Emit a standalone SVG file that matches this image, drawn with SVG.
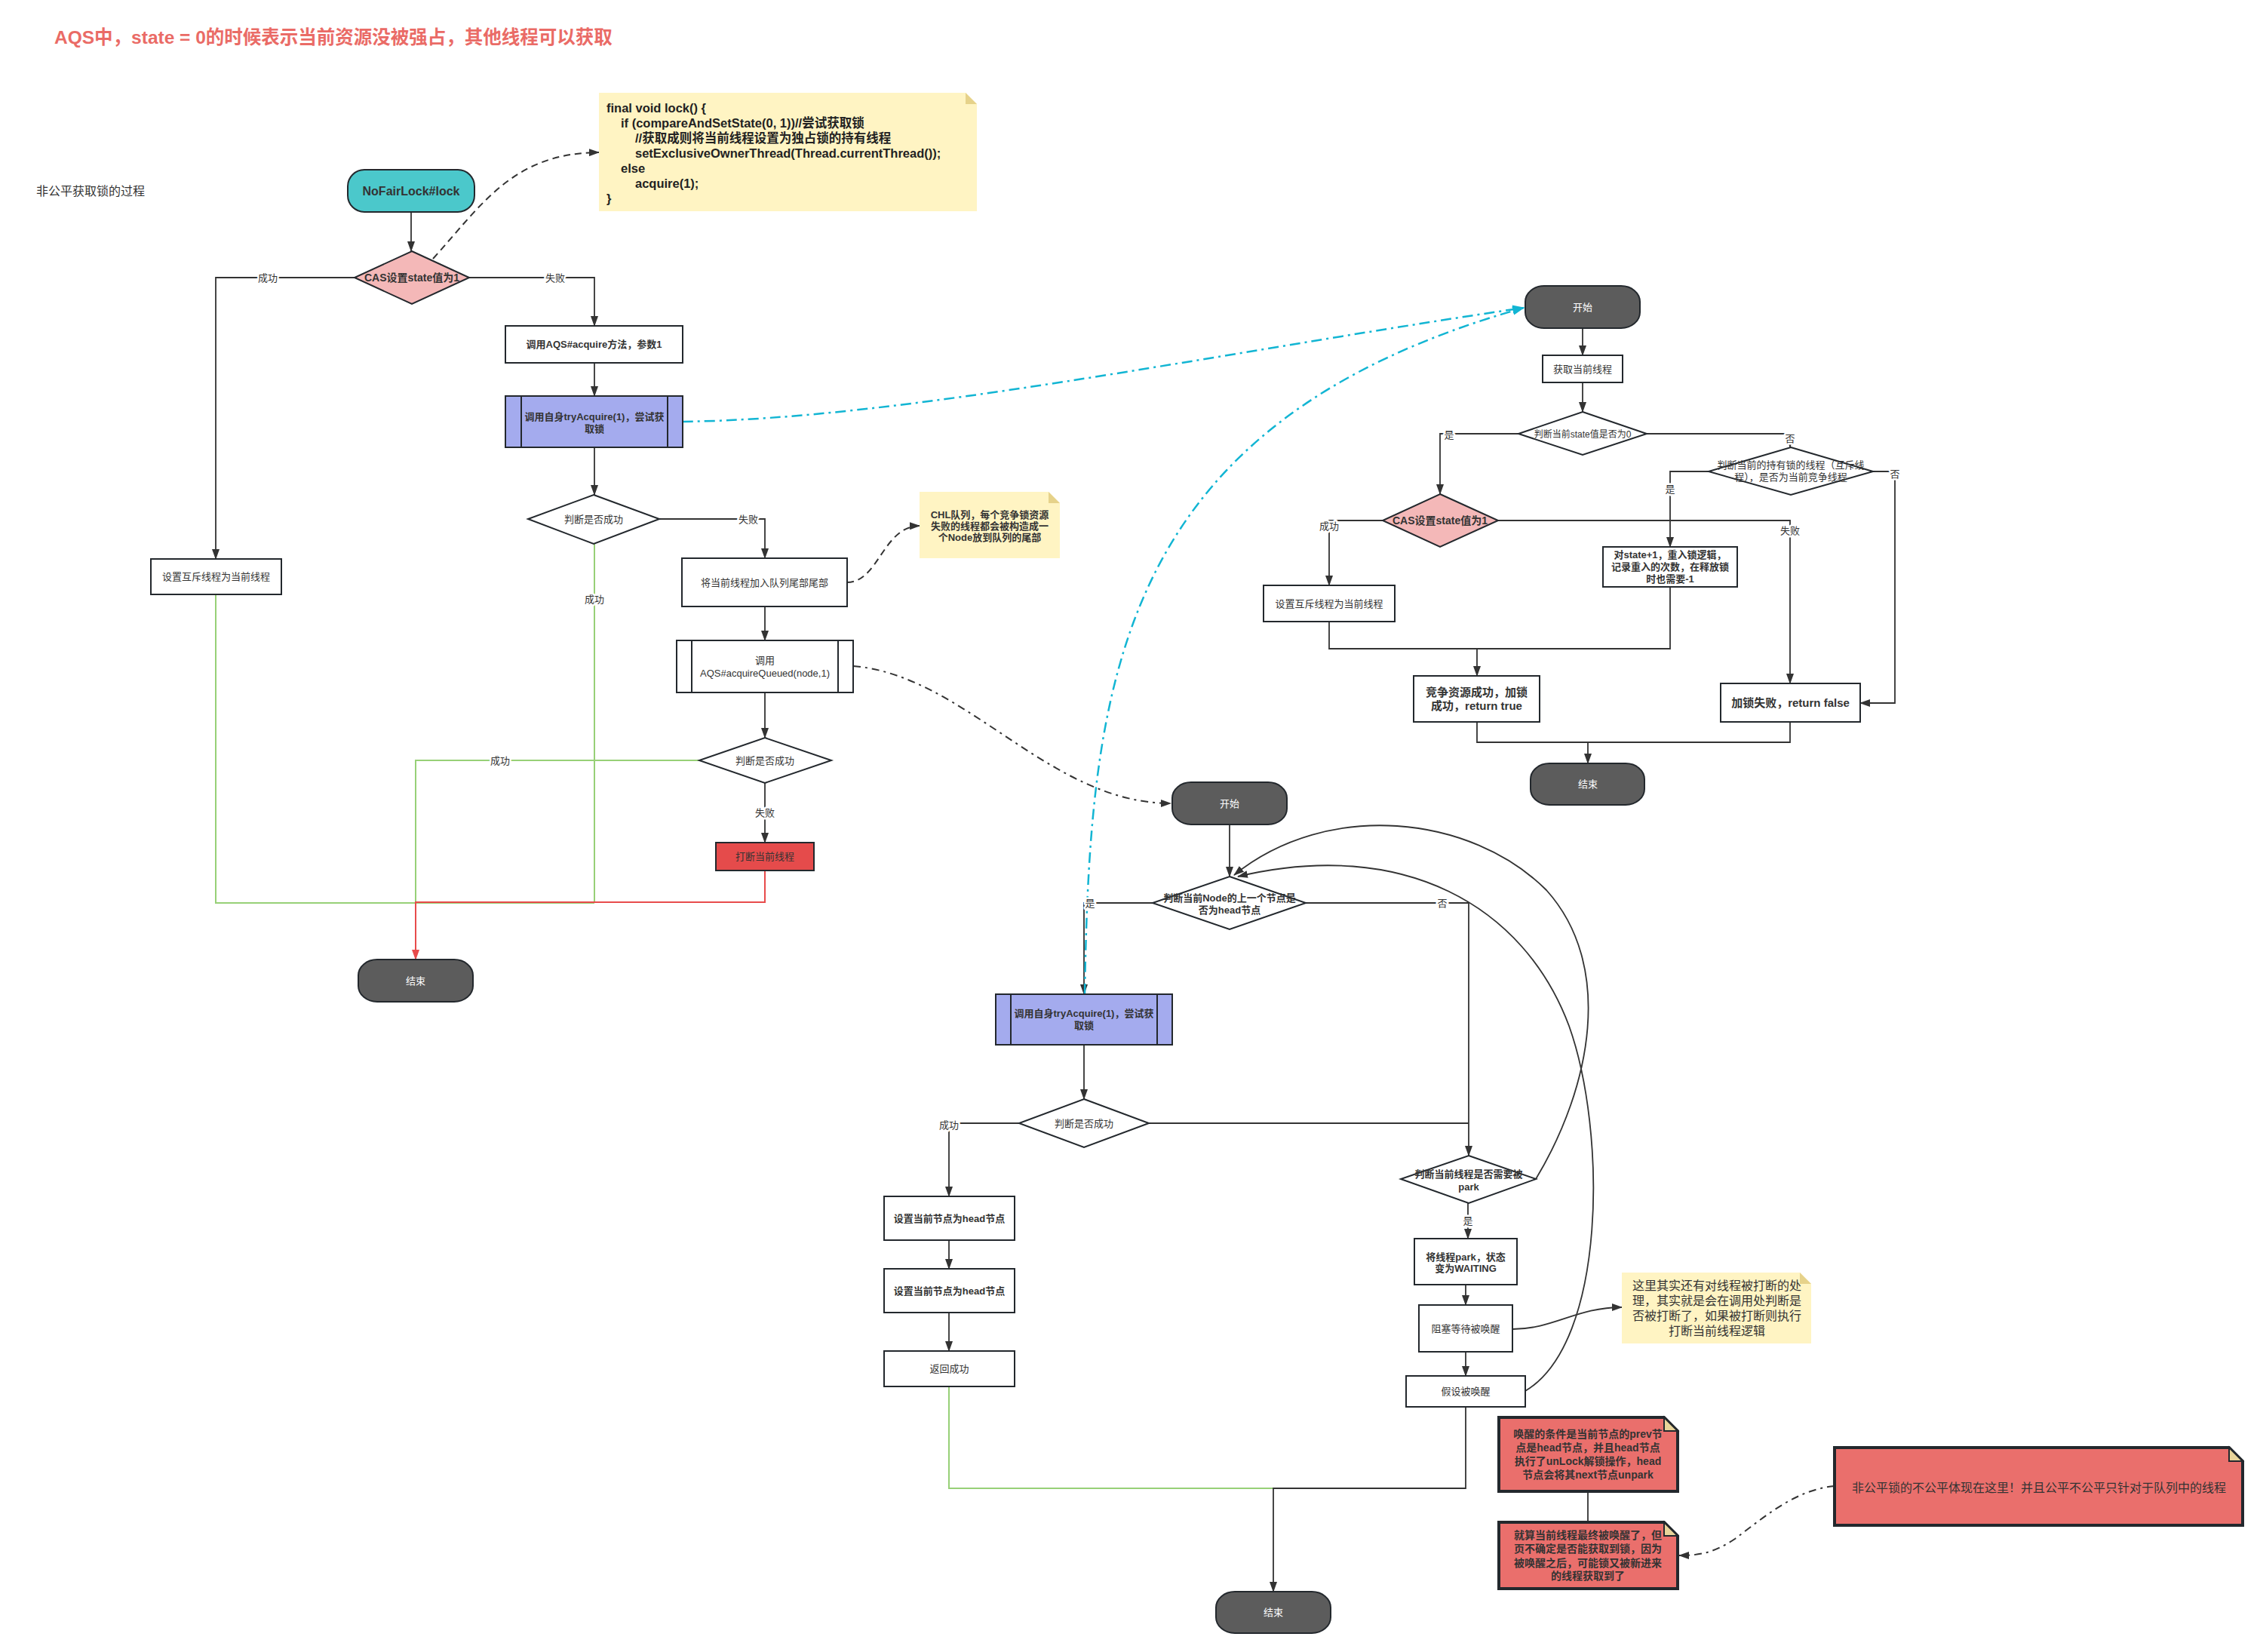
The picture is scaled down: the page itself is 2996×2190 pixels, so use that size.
<svg xmlns="http://www.w3.org/2000/svg" width="2996" height="2190" viewBox="0 0 2996 2190">
<defs>
<style>
.bg{fill:#ffffff}
.box{fill:#ffffff;stroke:#23282D;stroke-width:2}
.term{fill:#5C5C5C;stroke:#23282D;stroke-width:2}
.teal{fill:#4BC8CB;stroke:#23282D;stroke-width:2}
.pink{fill:#F4B8B8;stroke:#23282D;stroke-width:2}
.blue{fill:#A4ABEE;stroke:#23282D;stroke-width:2}
.redbox{fill:#E54B4B;stroke:#23282D;stroke-width:2}
.ynote{fill:#FFF4C3;stroke:none}
.yfold{fill:#E6D28A;stroke:none}
.rnote{fill:#EA6F6C;stroke:#23282D;stroke-width:4}
.rfold{fill:#E8D49A;stroke:#23282D;stroke-width:2}
.t{font-family:"Liberation Sans","Noto Sans CJK SC",sans-serif;font-size:13px;fill:#333333;text-anchor:middle}
.tw{font-family:"Liberation Sans","Noto Sans CJK SC",sans-serif;font-size:13px;fill:#ffffff;text-anchor:middle}
.tb{font-weight:bold}
.lbl{font-family:"Liberation Sans","Noto Sans CJK SC",sans-serif;font-size:13px;fill:#333333;text-anchor:middle;stroke:#ffffff;stroke-width:5px;paint-order:stroke;stroke-linejoin:round}
.code{font-family:"Liberation Sans","Noto Sans CJK SC",sans-serif;font-size:16.5px;font-weight:bold;fill:#222222}
.e{fill:none;stroke:#333333;stroke-width:1.8}
.g{fill:none;stroke:#97D077;stroke-width:2}
.r{fill:none;stroke:#E84B4B;stroke-width:2}
.cy{fill:none;stroke:#12B5D3;stroke-width:2.5;stroke-dasharray:14 6 3 6}
.dd{fill:none;stroke:#333333;stroke-width:2;stroke-dasharray:10 6 3 6}
.da{fill:none;stroke:#333333;stroke-width:2;stroke-dasharray:9 6}
</style>
<marker id="ah" viewBox="0 0 14 10" refX="13" refY="5" markerWidth="14" markerHeight="10" markerUnits="userSpaceOnUse" orient="auto"><path d="M0,0 L14,5 L0,10 Z" fill="#333333"/></marker>
<marker id="ahc" viewBox="0 0 14 10" refX="13" refY="5" markerWidth="16" markerHeight="12" markerUnits="userSpaceOnUse" orient="auto"><path d="M0,0 L14,5 L0,10 Z" fill="#12B5D3"/></marker>
<marker id="ahr" viewBox="0 0 14 10" refX="13" refY="5" markerWidth="14" markerHeight="10" markerUnits="userSpaceOnUse" orient="auto"><path d="M0,0 L14,5 L0,10 Z" fill="#E84B4B"/></marker>
</defs>
<rect class="bg" x="0" y="0" width="2996" height="2190"/>

<text x="72" y="58" style="font-family:'Liberation Sans','Noto Sans CJK SC',sans-serif;font-size:24.5px;font-weight:bold;fill:#EA6B66">AQS中，state = 0的时候表示当前资源没被强占，其他线程可以获取</text>
<text x="48" y="259" style="font-family:'Liberation Sans','Noto Sans CJK SC',sans-serif;font-size:16px;fill:#333333">非公平获取锁的过程</text>

<g id="connectors">
<!-- left flow -->
<path class="e" d="M545,281 V333" marker-end="url(#ah)"/>
<path class="e" d="M470,368 H286 V741" marker-end="url(#ah)"/>
<path class="e" d="M622,368 H788 V432" marker-end="url(#ah)"/>
<path class="e" d="M788,481 V525" marker-end="url(#ah)"/>
<path class="e" d="M788,593 V656" marker-end="url(#ah)"/>
<path class="e" d="M874,688 H1014 V740" marker-end="url(#ah)"/>
<path class="e" d="M1014,804 V849" marker-end="url(#ah)"/>
<path class="e" d="M1014,918 V978" marker-end="url(#ah)"/>
<path class="e" d="M1014,1038 V1117" marker-end="url(#ah)"/>
<path class="g" d="M286,788 V1197 H788"/>
<path class="g" d="M788,721 V1197"/>
<path class="g" d="M927,1008 H551 V1197"/>
<path class="r" d="M1014,1154 V1196 H551 V1272" marker-end="url(#ahr)"/>
<path class="da" d="M574,343 C640,270 680,203 794,202" marker-end="url(#ah)"/>
<path class="da" d="M1123,772 C1165,772 1170,698 1219,697" marker-end="url(#ah)"/>
<path class="cy" d="M905,559 C1200,555 1600,470 2020,408" marker-end="url(#ahc)"/>
<path class="dd" d="M1131,883 C1280,895 1390,1065 1552,1065" marker-end="url(#ah)"/>
<!-- right flow -->
<path class="e" d="M2098,435 V471" marker-end="url(#ah)"/>
<path class="e" d="M2098,507 V546" marker-end="url(#ah)"/>
<path class="e" d="M2013,575 H1909 V655" marker-end="url(#ah)"/>
<path class="e" d="M2183,575 H2373 V593" marker-end="url(#ah)"/>
<path class="e" d="M2265,625 H2214 V725" marker-end="url(#ah)"/>
<path class="e" d="M2483,625 H2512 V932 H2466" marker-end="url(#ah)"/>
<path class="e" d="M1833,690 H1762 V776" marker-end="url(#ah)"/>
<path class="e" d="M1986,690 H2373 V906" marker-end="url(#ah)"/>
<path class="e" d="M1762,824 V860 H1958 V896" marker-end="url(#ah)"/>
<path class="e" d="M2214,778 V860 H1958"/>
<path class="e" d="M1958,957 V984 H2105 V1012" marker-end="url(#ah)"/>
<path class="e" d="M2373,957 V984 H2105"/>
<!-- middle flow -->
<path class="e" d="M1630,1093 V1162" marker-end="url(#ah)"/>
<path class="e" d="M1528,1197 H1437 V1318" marker-end="url(#ah)"/>
<path class="e" d="M1731,1197 H1947 V1532" marker-end="url(#ah)"/>
<path class="cy" d="M1438,1318 C1445,900 1480,560 2020,408" marker-end="url(#ahc)"/>
<path class="e" d="M1437,1385 V1457" marker-end="url(#ah)"/>
<path class="e" d="M1351,1489 H1258 V1586" marker-end="url(#ah)"/>
<path class="e" d="M1523,1489 H1947"/>
<path class="e" d="M1258,1644 V1682" marker-end="url(#ah)"/>
<path class="e" d="M1258,1740 V1791" marker-end="url(#ah)"/>
<path class="g" d="M1258,1838 V1973 H1688"/>
<path class="e" d="M1943,1865 V1973 H1688 V2110" marker-end="url(#ah)"/>
<path class="e" d="M1946,1595 V1642" marker-end="url(#ah)"/>
<path class="e" d="M1943,1703 V1730" marker-end="url(#ah)"/>
<path class="e" d="M1943,1792 V1824" marker-end="url(#ah)"/>
<path class="e" d="M2036,1563 C2110,1440 2140,1280 2050,1180 C1950,1080 1760,1060 1636,1160" marker-end="url(#ah)"/>
<path class="e" d="M2022,1844 C2130,1780 2130,1500 2080,1360 C2020,1200 1860,1110 1641,1162" marker-end="url(#ah)"/>
<path class="e" d="M2005,1762 C2060,1762 2090,1733 2150,1733" marker-end="url(#ah)"/>
<path class="e" d="M2105,1977 V2018"/>
<path class="dd" d="M2432,1970 C2380,1975 2340,2010 2300,2040 C2270,2060 2250,2062 2226,2062" marker-end="url(#ah)"/>
<!-- labels -->
<text class="lbl" x="355" y="373">成功</text>
<text class="lbl" x="736" y="373">失败</text>
<text class="lbl" x="992" y="693">失败</text>
<text class="lbl" x="788" y="799">成功</text>
<text class="lbl" x="663" y="1013">成功</text>
<text class="lbl" x="1014" y="1082">失败</text>
<text class="lbl" x="1921" y="581">是</text>
<text class="lbl" x="2373" y="586">否</text>
<text class="lbl" x="2214" y="653">是</text>
<text class="lbl" x="2512" y="633">否</text>
<text class="lbl" x="1762" y="702">成功</text>
<text class="lbl" x="2373" y="708">失败</text>
<text class="lbl" x="1445" y="1202">是</text>
<text class="lbl" x="1912" y="1202">否</text>
<text class="lbl" x="1258" y="1496">成功</text>
<text class="lbl" x="1946" y="1623">是</text>
</g>

<g id="n-nofairlock"><rect class="teal" x="461" y="225" width="168" height="56" rx="22" ry="22"/><text class="t tb" x="545" y="259" style="font-size:16px">NoFairLock#lock</text></g>
<g id="n-cas1"><polygon class="pink" points="546,333 622,368 546,403 470,368"/><text class="t tb" x="546" y="373" style="font-size:14px">CAS设置state值为1</text></g>
<g id="n-setowner1"><rect class="box" x="200" y="741" width="173" height="47"/><text class="t" x="286.5" y="769">设置互斥线程为当前线程</text></g>
<g id="n-acquire"><rect class="box" x="670" y="432" width="235" height="49"/><text class="t tb" x="787.5" y="461">调用AQS#acquire方法，参数1</text></g>
<g id="n-try1"><rect class="blue" x="670" y="525" width="235" height="68"/><line class="box" x1="691" y1="525" x2="691" y2="593"/><line class="box" x1="885" y1="525" x2="885" y2="593"/><text class="t tb" x="788" y="557">调用自身tryAcquire(1)，尝试获</text><text class="t tb" x="788" y="573">取锁</text></g>
<g id="n-judge1"><polygon class="box" points="787,656 874,688 787,721 700,688"/><text class="t" x="787" y="693">判断是否成功</text></g>
<g id="n-addq"><rect class="box" x="904" y="740" width="219" height="64"/><text class="t" x="1013.5" y="777">将当前线程加入队列尾部尾部</text></g>
<g id="n-chl"><path class="ynote" d="M1219,652 H1390 L1405,667 V740 H1219 Z"/><path class="yfold" d="M1390,652 L1405,667 H1390 Z"/>
<text class="t tb" x="1312" y="687">CHL队列，每个竞争锁资源</text>
<text class="t tb" x="1312" y="702">失败的线程都会被构造成一</text>
<text class="t tb" x="1312" y="717">个Node放到队列的尾部</text></g>
<g id="n-acqq"><rect class="box" x="897" y="849" width="234" height="69"/><line class="box" x1="917" y1="849" x2="917" y2="918"/><line class="box" x1="1111" y1="849" x2="1111" y2="918"/><text class="t" x="1014" y="880">调用</text><text class="t" x="1014" y="897">AQS#acquireQueued(node,1)</text></g>
<g id="n-judge2"><polygon class="box" points="1014,978 1102,1008 1014,1038 927,1008"/><text class="t" x="1014" y="1013">判断是否成功</text></g>
<g id="n-interrupt"><rect class="redbox" x="949" y="1117" width="130" height="37"/><text class="t" x="1014" y="1140">打断当前线程</text></g>
<g id="n-end1"><rect class="term" x="475" y="1272" width="152" height="56" rx="25" ry="21"/><text class="tw" x="551" y="1305">结束</text></g>

<g id="n-code"><path class="ynote" d="M794,123 H1280 L1295,138 V280 H794 Z"/><path class="yfold" d="M1280,123 L1295,138 H1280 Z"/>
<text class="code" x="804" y="149">final void lock() {</text>
<text class="code" x="823" y="169">if (compareAndSetState(0, 1))//尝试获取锁</text>
<text class="code" x="842" y="189">//获取成则将当前线程设置为独占锁的持有线程</text>
<text class="code" x="842" y="209">setExclusiveOwnerThread(Thread.currentThread());</text>
<text class="code" x="823" y="229">else</text>
<text class="code" x="842" y="249">acquire(1);</text>
<text class="code" x="804" y="269">}</text></g>

<g id="n-start2"><rect class="term" x="2022" y="379" width="152" height="56" rx="25" ry="21"/><text class="tw" x="2098" y="412">开始</text></g>
<g id="n-getthread"><rect class="box" x="2045" y="471" width="106" height="36"/><text class="t" x="2098" y="494">获取当前线程</text></g>
<g id="n-state0"><polygon class="box" points="2098,546 2183,575 2098,603 2013,575"/><text class="t" x="2098" y="580" style="font-size:12px">判断当前state值是否为0</text></g>
<g id="n-owner"><polygon class="box" points="2374,593 2483,625 2374,656 2265,625"/><text class="t" x="2374" y="621">判断当前的持有锁的线程（互斥线</text><text class="t" x="2374" y="637">程），是否为当前竞争线程</text></g>
<g id="n-cas2"><polygon class="pink" points="1909,655 1986,690 1909,725 1833,690"/><text class="t tb" x="1909" y="695" style="font-size:14px">CAS设置state值为1</text></g>
<g id="n-setowner2"><rect class="box" x="1675" y="776" width="174" height="48"/><text class="t" x="1762" y="805">设置互斥线程为当前线程</text></g>
<g id="n-reentry"><rect class="box" x="2125" y="725" width="178" height="53"/><text class="t tb" x="2214" y="740">对state+1，重入锁逻辑，</text><text class="t tb" x="2214" y="756">记录重入的次数，在释放锁</text><text class="t tb" x="2214" y="772">时也需要-1</text></g>
<g id="n-success"><rect class="box" x="1874" y="896" width="167" height="61"/><text class="t tb" x="1957.5" y="923" style="font-size:15px">竞争资源成功，加锁</text><text class="t tb" x="1957.5" y="941" style="font-size:15px">成功，return true</text></g>
<g id="n-fail"><rect class="box" x="2281" y="906" width="185" height="51"/><text class="t tb" x="2373.5" y="937" style="font-size:15px">加锁失败，return false</text></g>
<g id="n-end2"><rect class="term" x="2029" y="1012" width="151" height="55" rx="25" ry="21"/><text class="tw" x="2105" y="1044">结束</text></g>

<g id="n-start3"><rect class="term" x="1554" y="1037" width="152" height="56" rx="25" ry="21"/><text class="tw" x="1630" y="1070">开始</text></g>
<g id="n-prevhead"><polygon class="box" points="1630,1162 1731,1197 1630,1232 1528,1197"/><text class="t tb" x="1630" y="1195">判断当前Node的上一个节点是</text><text class="t tb" x="1630" y="1211">否为head节点</text></g>
<g id="n-try2"><rect class="blue" x="1320" y="1318" width="234" height="67"/><line class="box" x1="1340" y1="1318" x2="1340" y2="1385"/><line class="box" x1="1534" y1="1318" x2="1534" y2="1385"/><text class="t tb" x="1437" y="1348">调用自身tryAcquire(1)，尝试获</text><text class="t tb" x="1437" y="1364">取锁</text></g>
<g id="n-judge3"><polygon class="box" points="1437,1457 1523,1489 1437,1521 1351,1489"/><text class="t" x="1437" y="1494">判断是否成功</text></g>
<g id="n-sethead1"><rect class="box" x="1172" y="1586" width="173" height="58"/><text class="t tb" x="1258.5" y="1620">设置当前节点为head节点</text></g>
<g id="n-sethead2"><rect class="box" x="1172" y="1682" width="173" height="58"/><text class="t tb" x="1258.5" y="1716">设置当前节点为head节点</text></g>
<g id="n-retok"><rect class="box" x="1172" y="1791" width="173" height="47"/><text class="t" x="1258.5" y="1819">返回成功</text></g>
<g id="n-needpark"><polygon class="box" points="1947,1532 2036,1563 1947,1595 1857,1563"/><text class="t tb" x="1947" y="1561">判断当前线程是否需要被</text><text class="t tb" x="1947" y="1578">park</text></g>
<g id="n-park"><rect class="box" x="1875" y="1642" width="136" height="61"/><text class="t tb" x="1943" y="1671">将线程park，状态</text><text class="t tb" x="1943" y="1686">变为WAITING</text></g>
<g id="n-block"><rect class="box" x="1881" y="1730" width="124" height="62"/><text class="t" x="1943" y="1766">阻塞等待被唤醒</text></g>
<g id="n-wake"><rect class="box" x="1864" y="1824" width="158" height="41"/><text class="t" x="1943" y="1849">假设被唤醒</text></g>
<g id="n-end3"><rect class="term" x="1612" y="2110" width="152" height="55" rx="25" ry="21"/><text class="tw" x="1688" y="2142">结束</text></g>

<g id="n-note-interrupt"><path class="ynote" d="M2150,1687 H2386 L2401,1702 V1781 H2150 Z"/><path class="yfold" d="M2386,1687 L2401,1702 H2386 Z"/>
<text class="t" x="2276" y="1710" style="font-size:16px">这里其实还有对线程被打断的处</text>
<text class="t" x="2276" y="1730" style="font-size:16px">理，其实就是会在调用处判断是</text>
<text class="t" x="2276" y="1750" style="font-size:16px">否被打断了，如果被打断则执行</text>
<text class="t" x="2276" y="1770" style="font-size:16px">打断当前线程逻辑</text></g>
<g id="n-note-wake"><path class="rnote" d="M1987,1879 H2206 L2224,1897 V1977 H1987 Z"/><path class="rfold" d="M2206,1879 V1897 H2224 Z"/>
<text class="t tb" x="2105" y="1906" style="font-size:14px">唤醒的条件是当前节点的prev节</text>
<text class="t tb" x="2105" y="1924" style="font-size:14px">点是head节点，并且head节点</text>
<text class="t tb" x="2105" y="1942" style="font-size:14px">执行了unLock解锁操作，head</text>
<text class="t tb" x="2105" y="1960" style="font-size:14px">节点会将其next节点unpark</text></g>
<g id="n-note-maybe"><path class="rnote" d="M1987,2018 H2206 L2224,2036 V2106 H1987 Z"/><path class="rfold" d="M2206,2018 V2036 H2224 Z"/>
<text class="t tb" x="2105" y="2040" style="font-size:14px">就算当前线程最终被唤醒了，但</text>
<text class="t tb" x="2105" y="2058" style="font-size:14px">页不确定是否能获取到锁，因为</text>
<text class="t tb" x="2105" y="2077" style="font-size:14px">被唤醒之后，可能锁又被新进来</text>
<text class="t tb" x="2105" y="2094" style="font-size:14px">的线程获取到了</text></g>
<g id="n-note-unfair"><path class="rnote" d="M2432,1919 H2955 L2973,1937 V2022 H2432 Z"/><path class="rfold" d="M2955,1919 V1937 H2973 Z"/>
<text class="t" x="2703" y="1978" style="font-size:16px">非公平锁的不公平体现在这里！并且公平不公平只针对于队列中的线程</text></g>
</svg>
